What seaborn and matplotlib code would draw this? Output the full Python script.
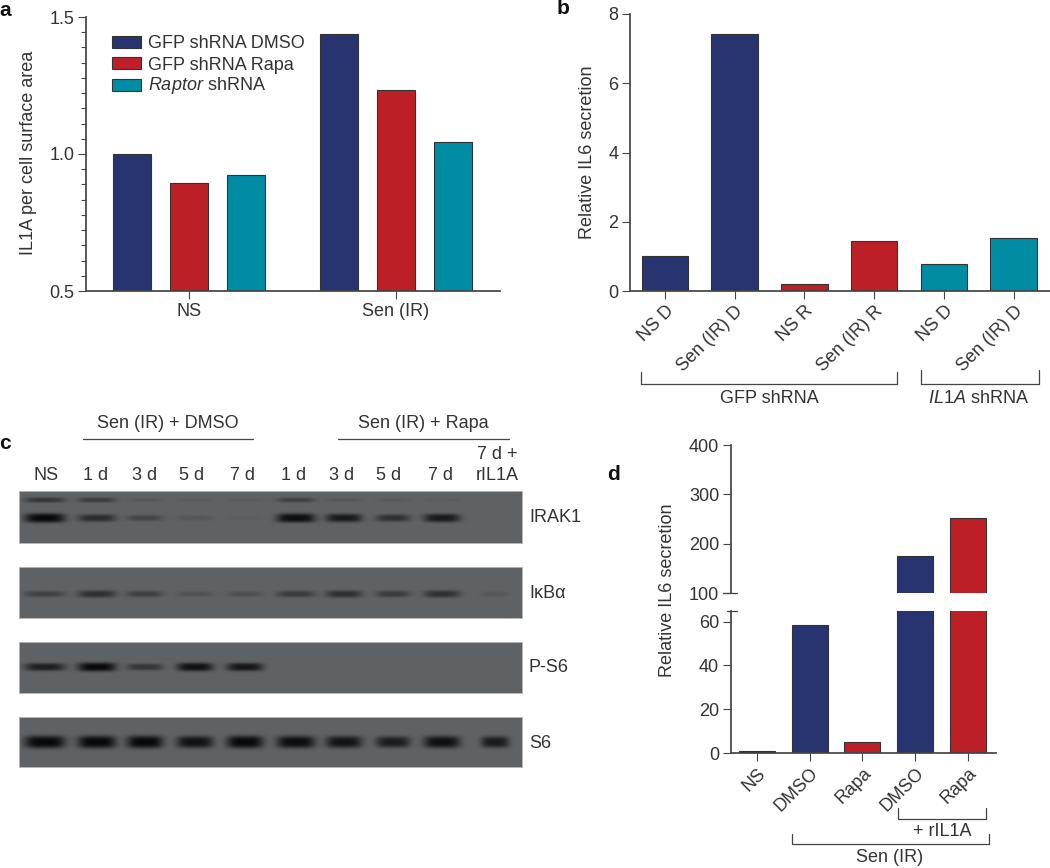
import matplotlib
matplotlib.use('Agg')
import matplotlib.pyplot as plt
import seaborn as sns
import pandas as pd
import numpy as np
from matplotlib.lines import Line2D

# panel a
a_groups = ['NS', 'Sen (IR)']
a_series = ['GFP shRNA DMSO', 'GFP shRNA Rapa', 'Raptor shRNA']
a_dmso = [1.0, 1.438]
a_rapa = [0.895, 1.235]
a_raptor = [0.923, 1.044]

# panel b
b_labels = ['NS D', 'Sen (IR) D', 'NS R', 'Sen (IR) R', 'NS D', 'Sen (IR) D']
b_values = [1.0, 7.42, 0.2, 1.44, 0.77, 1.54]
b_groups = ['dmso', 'dmso', 'rapa', 'rapa', 'il1a', 'il1a']

# panel d
d_labels = ['NS', 'DMSO', 'Rapa', 'DMSO', 'Rapa']
d_values = [1, 58.3, 5, 174, 253]
d_groups = ['ns', 'dmso', 'rapa', 'dmso', 'rapa']

# panel c, band strength per lane (0-1) read by eye off the blots
c_lanes = ['NS', '1 d', '3 d', '5 d', '7 d', '1 d', '3 d', '5 d', '7 d', '7 d +\nrIL1A']
irak1_upper = [0.5, 0.42, 0.12, 0.08, 0.08, 0.38, 0.12, 0.1, 0.06, 0]
irak1_lower = [1.0, 0.6, 0.32, 0.14, 0.05, 0.95, 0.8, 0.55, 0.8, 0]
ikba_band = [0.36, 0.55, 0.38, 0.18, 0.2, 0.42, 0.55, 0.42, 0.55, 0.12]
ps6_band = [0.75, 1.0, 0.5, 0.9, 0.85, 0, 0, 0, 0, 0]
s6_band = [1.0, 1.0, 1.0, 0.9, 1.0, 0.95, 0.88, 0.78, 0.92, 0.8]

NAVY = '#27346f'
RED = '#bc2026'
TEAL = '#008ca3'
EDGE = '#333333'
TEXT = '#333333'
W, H = 1050, 868

sns.set_theme(style='ticks')
plt.rcParams['font.family'] = ['Liberation Sans', 'DejaVu Sans']
plt.rcParams['mathtext.fontset'] = 'custom'
plt.rcParams['mathtext.it'] = 'Liberation Sans:italic'
plt.rcParams['mathtext.rm'] = 'Liberation Sans'
plt.rcParams['text.color'] = TEXT
plt.rcParams['axes.edgecolor'] = '#444444'
plt.rcParams['xtick.color'] = '#444444'
plt.rcParams['ytick.color'] = '#444444'
plt.rcParams['xtick.labelcolor'] = TEXT
plt.rcParams['ytick.labelcolor'] = TEXT
FS = 13

fig = plt.figure(figsize=(W / 100, H / 100), dpi=100, facecolor='white')
blot_cmap = sns.blend_palette(['#08080a', '#5e6264'], as_cmap=True)


def add_ax(left, top, right, bottom):
    return fig.add_axes([left / W, 1 - bottom / H, (right - left) / W, (bottom - top) / H])


def ftext(x, y, s, **kw):
    kw.setdefault('ha', 'center')
    kw.setdefault('va', 'center')
    kw.setdefault('fontsize', FS)
    fig.text(x / W, 1 - y / H, s, **kw)


def fline(xs, ys, color='#444444', lw=0.9):
    fig.add_artist(Line2D([x / W for x in xs], [1 - y / H for y in ys], color=color, lw=lw))


def bracket(x0, x1, top, bottom):
    fline([x0, x0, x1, x1], [top, bottom, bottom, top])


def style_axis(ax):
    sns.despine(ax=ax)
    ax.set_facecolor('none')
    ax.set_xlabel('')
    ax.set_ylabel('')
    ax.tick_params(axis='both', which='major', labelsize=FS, length=5.5, width=0.8, pad=3)


# a
ax = add_ax(86, 17, 500, 291)
a_df = pd.DataFrame({
    'group': a_groups * 3,
    'series': [a_series[0]] * 2 + [a_series[1]] * 2 + [a_series[2]] * 2,
    'value': a_dmso + a_rapa + a_raptor,
})
sns.barplot(data=a_df, x='group', y='value', hue='series', palette=[NAVY, RED, TEAL], saturation=1,
            width=0.82, gap=0.327, edgecolor=EDGE, linewidth=0.8, ax=ax)
ax.set_xlim(-0.4976, 1.5024)
ax.set_ylim(0.5, 1.5)
ax.set_yticks([0.5, 1.0, 1.5])
ax.set_yticklabels(['0.5', '1.0', '1.5'])
ax.set_yticks(np.arange(0.5, 1.5, 1 / 18), minor=True)
style_axis(ax)
ax.tick_params(axis='y', which='minor', left=True, length=3.5, width=0.8)
handles, labels = ax.get_legend_handles_labels()
# the italic word goes in by hand, mathtext makes the legend row taller
ax.legend(handles, labels[:2] + [' '], loc='upper left', bbox_to_anchor=(26 / 414, 0.934), frameon=False,
          fontsize=FS, handlelength=1.6, handleheight=0.66, labelspacing=0.245,
          handletextpad=0.42, borderpad=0, borderaxespad=0)
ftext(148, 85, r'$\mathit{Raptor}$ shRNA', ha='left')
ftext(29, 153, 'IL1A per cell surface area', rotation=90)

# b
ax = add_ax(630, 14, 1050, 291)
sns.barplot(x=list(range(6)), y=b_values, hue=b_groups, dodge=False, legend=False, width=0.667, saturation=1,
            palette={'dmso': NAVY, 'rapa': RED, 'il1a': TEAL}, edgecolor=EDGE, linewidth=0.8, ax=ax)
ax.set_xlim(-0.5, 5.52)
ax.set_ylim(0, 8)
ax.set_yticks([0, 2, 4, 6, 8])
ax.set_xticks(range(6))
ax.set_xticklabels(b_labels, rotation=45, ha='right', rotation_mode='anchor')
style_axis(ax)
ftext(587, 152, 'Relative IL6 secretion', rotation=90)
bracket(641, 897, 372, 384)
bracket(921, 1039, 370, 384)
ftext(769, 398, 'GFP shRNA')
ftext(979, 398, r'$\mathit{IL1A}$ shRNA')

# d, broken axis
ax_top = add_ax(731, 445, 996, 593)
ax_low = add_ax(731, 611, 996, 753)
d_x = list(range(5))
d_pal = {'ns': '#1a1a22', 'dmso': NAVY, 'rapa': RED}
for a_ in (ax_top, ax_low):
    sns.barplot(x=d_x, y=d_values, hue=d_groups, dodge=False, legend=False, width=0.68, saturation=1,
                palette=d_pal, edgecolor=EDGE, linewidth=0.8, ax=a_)
    a_.set_xlim(-0.493, 4.535)
    style_axis(a_)
ax_top.set_ylim(100, 400)
ax_top.set_yticks([100, 200, 300, 400])
ax_top.spines['bottom'].set_visible(False)
ax_top.tick_params(axis='x', which='both', bottom=False, labelbottom=False)
ax_low.set_ylim(0, 64.8)
ax_low.set_yticks([0, 20, 40, 60])
ax_low.set_xticks(d_x)
ax_low.set_xticklabels(d_labels, rotation=45, ha='right', rotation_mode='anchor')
fline([723, 737], [593, 593])
fline([727, 737], [611, 611])
ftext(667, 590, 'Relative IL6 secretion', rotation=90)
bracket(898, 986, 808, 819)
ftext(942, 831, '+ rIL1A')
bracket(792, 989, 834, 844)
ftext(890, 858, 'Sen (IR)')

# c, blots are rebuilt from the band strengths
lane_x = [26, 78, 126, 176, 226, 277, 325, 374, 423, 476]
lane_half = [20, 19, 18, 18, 18, 19, 18, 17, 18, 14]


def draw_blot(top, bottom, bands):
    rows, cols = bottom - top, 503
    xx, yy = np.meshgrid(np.arange(cols) + 0.5, np.arange(rows) + 0.5)
    dark = np.zeros((rows, cols))
    for strengths, y_mid, thick in bands:
        for cx, half, s in zip(lane_x, lane_half, strengths):
            across = np.exp(-(np.abs(xx - cx) / half) ** 4)
            down = np.exp(-(np.abs(yy - (y_mid - top)) / (thick * (0.5 + 0.5 * s))) ** 3)
            dark += s * across * down
    img = 1 - np.clip(dark, 0, 1)
    ax = add_ax(19, top, 522, bottom)
    sns.heatmap(img, ax=ax, cmap=blot_cmap, vmin=0, vmax=1, cbar=False,
                xticklabels=False, yticklabels=False, rasterized=True)
    ax.tick_params(length=0)
    for side in ['top', 'bottom', 'left', 'right']:
        ax.spines[side].set_visible(True)
        ax.spines[side].set_color('#b5b5b5')
        ax.spines[side].set_linewidth(0.7)


draw_blot(491, 543, [(irak1_upper, 500, 3.4), (irak1_lower, 518, 4.6)])
draw_blot(567, 618, [(ikba_band, 594, 4.6)])
draw_blot(642, 693, [(ps6_band, 667, 4.4)])
draw_blot(717, 767, [(s6_band, 742, 6.2)])

for x, lab in zip([46, 96, 145, 192, 242, 294, 342, 389, 440, 497], c_lanes):
    ftext(x, 476 if '\n' not in lab else 465, lab, linespacing=1.25)
for y, lab in zip([517, 593, 668, 743], ['IRAK1', 'IκBα', 'P-S6', 'S6']):
    ftext(529, y, lab, ha='left')
ftext(168, 423, 'Sen (IR) + DMSO')
ftext(423, 423, 'Sen (IR) + Rapa')
fline([83, 253], [439, 439])
fline([338, 509], [439, 439])

# panel letters
for x, y, s in [(5, 10, 'a'), (563, 8, 'b'), (5, 443, 'c'), (613, 474, 'd')]:
    ftext(x, y, s, fontweight='bold', fontsize=15, color='#111111')

fig.savefig('out.png', dpi=100)
